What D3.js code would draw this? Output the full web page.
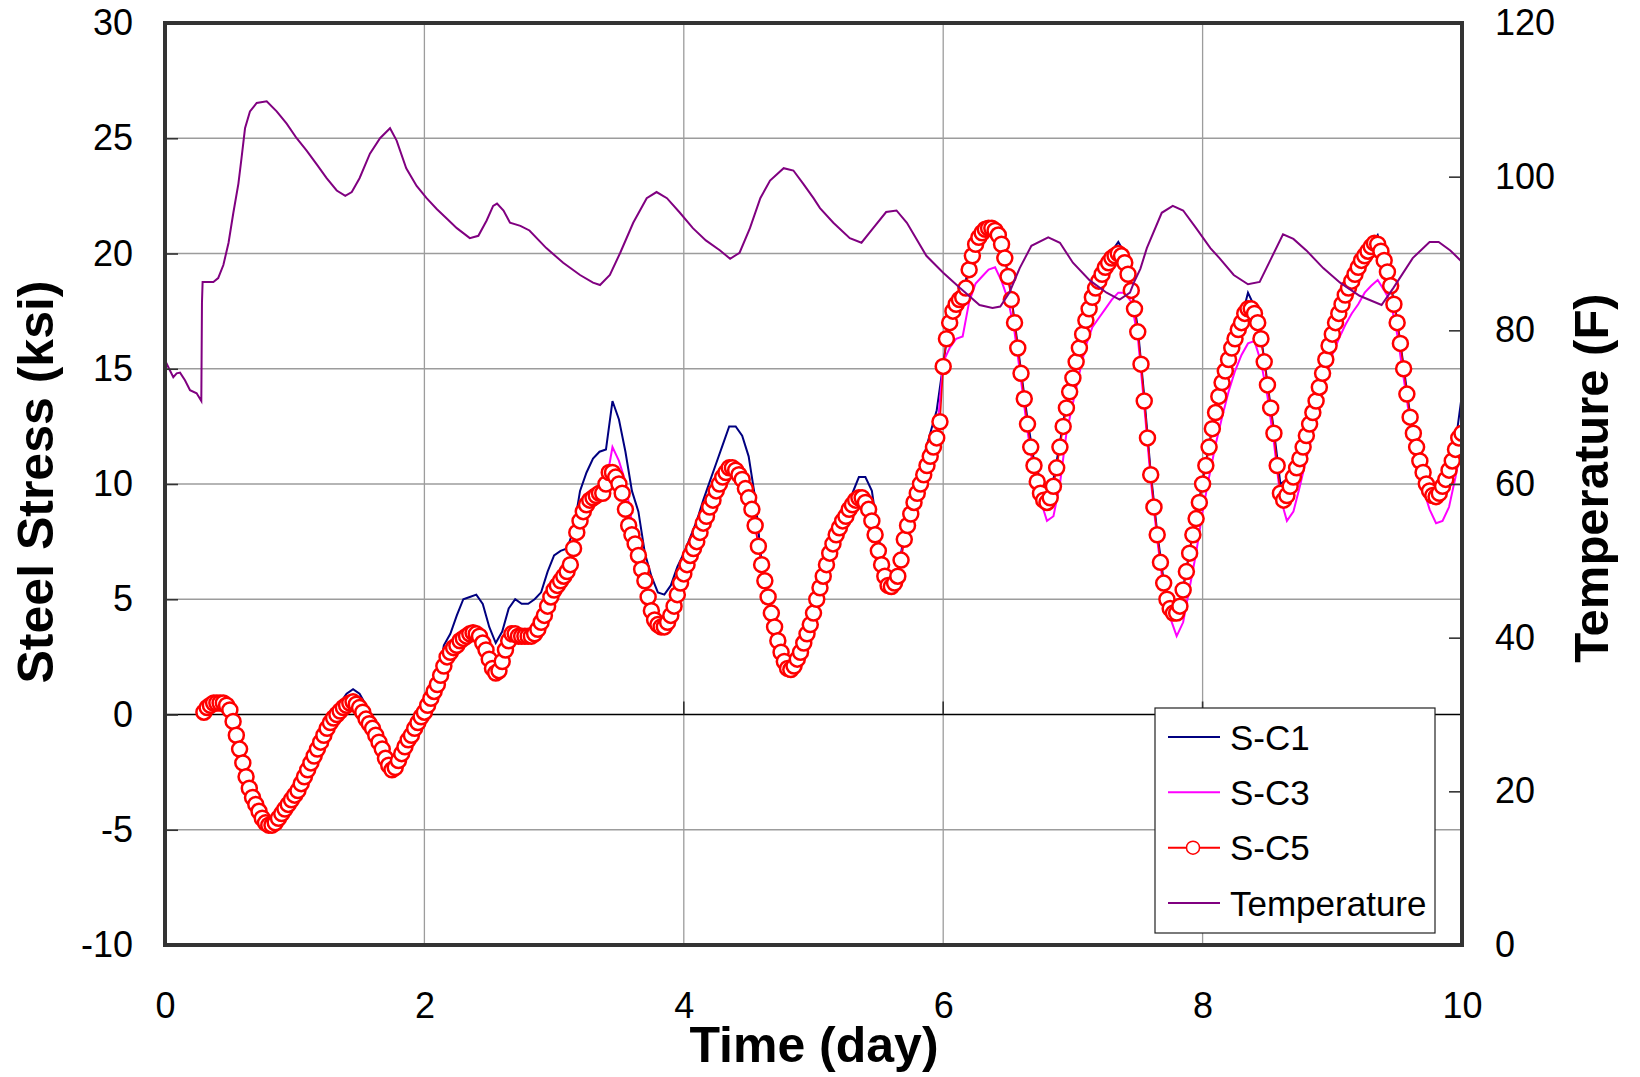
<!DOCTYPE html>
<html><head><meta charset="utf-8">
<script src="https://cdn.jsdelivr.net/npm/d3@7"></script>
<style>
body{margin:0;background:#fff}
svg{display:block}
text{font-family:"Liberation Sans",Arial,sans-serif;fill:#000}
</style>
</head><body>
<svg id="chart" width="1640" height="1077"></svg>
<script>
// ---------------- DATA ----------------
const seriesNames = ["S-C1", "S-C3", "S-C5", "Temperature"];
const xTickValues = [0, 2, 4, 6, 8, 10];
const yTickValues = [-10, -5, 0, 5, 10, 15, 20, 25, 30];
const y2TickValues = [0, 20, 40, 60, 80, 100, 120];

// S-C5 sampled every 0.025 day starting at day 0.30 (ksi)
const sc5Start = 0.30, sc5Step = 0.025;
const sc5 = [
 0.1,0.3,0.4,0.5,0.5,0.5,0.5,0.4,0.2,-0.3,-0.9,-1.5,-2.1,-2.7,-3.2,-3.6,-3.9,-4.2,-4.5,-4.7,
 -4.8,-4.8,-4.7,-4.5,-4.3,-4.1,-3.9,-3.7,-3.5,-3.3,-3.0,-2.7,-2.4,-2.1,-1.8,-1.5,-1.2,-0.9,-0.6,-0.35,
 -0.15,0.0,0.15,0.3,0.4,0.5,0.55,0.45,0.3,0.1,-0.2,-0.4,-0.6,-0.9,-1.2,-1.5,-1.9,-2.2,-2.4,-2.3,
 -2.0,-1.7,-1.4,-1.1,-0.9,-0.6,-0.35,-0.1,0.1,0.4,0.7,1.0,1.3,1.7,2.1,2.5,2.7,2.9,3.0,3.2,
 3.3,3.4,3.5,3.55,3.5,3.4,3.1,2.8,2.4,2.0,1.8,1.9,2.3,2.8,3.2,3.5,3.5,3.4,3.4,3.4,
 3.4,3.4,3.5,3.7,4.0,4.3,4.7,5.1,5.4,5.6,5.8,6.0,6.2,6.5,7.2,7.9,8.4,8.8,9.1,9.3,
 9.4,9.5,9.6,9.6,10.0,10.5,10.5,10.3,10.0,9.6,8.9,8.2,7.8,7.4,6.9,6.3,5.8,5.1,4.5,4.1,
 3.9,3.8,3.8,4.0,4.3,4.7,5.2,5.7,6.1,6.5,6.9,7.2,7.5,7.9,8.3,8.6,9.0,9.3,9.7,10.0,
 10.3,10.5,10.7,10.7,10.6,10.4,10.2,9.8,9.4,8.9,8.2,7.3,6.5,5.8,5.1,4.4,3.8,3.2,2.7,2.3,
 2.0,1.95,2.1,2.4,2.7,3.1,3.5,3.9,4.4,5.0,5.5,6.0,6.5,7.0,7.4,7.8,8.1,8.4,8.6,8.9,
 9.1,9.3,9.4,9.4,9.2,8.9,8.4,7.8,7.1,6.5,6.0,5.6,5.55,5.7,6.0,6.7,7.6,8.2,8.7,9.2,
 9.6,10.0,10.4,10.8,11.2,11.6,12.0,12.7,15.1,16.3,17.0,17.5,17.8,18.0,18.1,18.5,19.3,19.9,20.4,20.7,
 20.9,21.05,21.1,21.1,21.0,20.8,20.4,19.8,19.0,18.0,17.0,15.9,14.8,13.7,12.6,11.6,10.8,10.1,9.6,9.3,
 9.2,9.4,9.9,10.7,11.6,12.5,13.3,14.0,14.6,15.3,15.9,16.5,17.1,17.6,18.1,18.5,18.8,19.1,19.4,19.6,
 19.8,19.9,20.0,19.9,19.6,19.1,18.4,17.6,16.6,15.2,13.6,12.0,10.4,9.0,7.8,6.6,5.7,5.0,4.6,4.4,
 4.4,4.7,5.4,6.2,7.0,7.8,8.5,9.2,10.0,10.8,11.6,12.4,13.1,13.8,14.4,14.9,15.4,15.9,16.3,16.7,
 17.0,17.4,17.6,17.6,17.4,17.0,16.3,15.3,14.3,13.3,12.2,10.8,9.6,9.3,9.5,9.9,10.3,10.7,11.1,11.6,
 12.1,12.6,13.1,13.6,14.2,14.8,15.4,16.0,16.5,17.0,17.4,17.8,18.2,18.5,18.8,19.1,19.4,19.7,19.9,20.1,
 20.3,20.45,20.4,20.1,19.7,19.2,18.6,17.8,17.0,16.1,15.0,13.9,12.9,12.2,11.6,11.0,10.5,10.0,9.7,9.5,
 9.45,9.6,9.9,10.2,10.6,11.0,11.5,12.0,12.2
];

// S-C1 and S-C3 sampled every 0.05 day starting at day 0.30 (ksi)
const lineStart = 0.30, lineStep = 0.05;
const sc1 = [
 0.1,0.4,0.5,0.5,0.2,-0.9,-2.1,-3.2,-3.9,-4.5,
 -4.8,-4.7,-4.3,-3.9,-3.5,-3.0,-2.4,-1.8,-1.2,-0.5,
 0.1,0.5,0.9,1.1,0.9,0.4,-0.4,-1.1,-1.8,-2.3,
 -1.9,-1.3,-0.7,-0.2,0.4,1.0,1.4,3.0,3.5,4.3,
 5.0,5.1,5.2,4.8,3.8,3.1,3.6,4.6,5.0,4.8,
 4.8,5.0,5.3,6.2,6.9,7.1,7.2,8.0,9.7,10.5,
 11.1,11.4,11.5,13.6,12.8,11.4,9.7,8.8,7.0,6.0,
 5.3,5.2,5.6,6.4,7.0,7.7,8.4,9.3,10.1,10.9,
 11.7,12.5,12.5,12.1,11.2,9.4,6.6,5.1,3.8,2.7,
 2.0,2.1,2.8,3.7,4.6,5.7,6.8,7.6,8.4,9.1,
 9.6,10.3,10.3,9.7,7.8,6.1,5.6,6.2,7.8,9.0,
 10.0,11.2,12.2,13.2,15.2,17.1,17.9,18.2,19.5,20.6,
 21.2,21.3,21.2,20.5,19.1,17.1,14.9,12.8,11.0,10.2,
 9.9,10.2,11.8,13.5,14.8,16.1,17.3,18.3,19.0,19.6,
 20.1,20.5,20.0,18.6,16.8,13.8,10.5,7.9,5.8,4.7,
 4.5,5.5,7.1,8.6,10.1,11.7,13.2,14.5,15.5,16.4,
 17.2,18.3,17.7,16.4,14.4,12.3,10.0,10.2,10.5,11.3,
 12.2,13.2,14.3,15.5,16.6,17.5,18.3,18.9,19.5,20.0,
 20.4,20.8,19.9,18.7,17.1,15.1,13.0,11.7,10.6,10.0,
 9.8,10.2,10.9,11.8,13.9
];
const sc3 = [
 0.1,0.4,0.5,0.5,0.2,-0.9,-2.1,-3.2,-3.9,-4.6,
 -5.0,-4.9,-4.4,-3.9,-3.5,-3.0,-2.4,-1.8,-1.2,-0.6,
 -0.15,0.15,0.4,0.55,0.3,-0.2,-0.6,-1.2,-1.9,-2.4,
 -2.0,-1.4,-0.9,-0.35,0.1,0.7,1.3,2.1,2.7,3.0,
 3.3,3.5,3.5,3.1,2.4,1.8,2.3,3.2,3.5,3.4,
 3.4,3.5,4.0,4.7,5.4,5.8,6.2,7.2,8.4,9.1,
 9.4,9.6,10.0,11.6,11.0,10.1,8.3,6.9,5.8,4.5,
 3.9,3.8,4.3,5.2,6.1,6.9,7.5,8.3,9.0,9.7,
 10.3,10.7,10.6,10.2,9.4,8.2,6.5,5.1,3.8,2.7,
 2.0,2.1,2.7,3.5,4.4,5.5,6.5,7.4,8.1,8.6,
 9.1,9.4,9.2,8.4,7.1,6.0,5.55,6.0,7.6,8.7,
 9.6,10.4,11.2,12.0,15.3,15.9,16.3,16.4,17.9,18.7,
 19.0,19.3,19.4,18.8,18.0,16.6,14.5,12.3,10.5,9.3,
 8.4,8.6,10.0,12.2,13.5,14.8,16.0,16.8,17.2,17.6,
 18.0,18.3,18.3,17.9,16.4,13.4,10.2,7.6,5.4,4.2,
 3.4,4.0,5.5,7.0,8.8,10.3,11.7,12.9,14.0,14.9,
 15.6,16.1,16.2,15.3,13.8,11.8,9.4,8.4,8.8,9.9,
 11.1,12.2,13.4,14.6,15.6,16.3,16.9,17.4,17.8,18.3,
 18.6,18.85,18.4,17.9,16.5,14.6,12.7,11.0,9.8,8.9,
 8.3,8.4,9.0,10.3,11.8
];

// Temperature (F), read at irregular times (day)
const tempDays = [0,0.026,0.064,0.09,0.116,0.154,0.193,0.244,0.28,0.285,0.29,0.373,0.41,0.45,0.49,0.527,0.566,0.59,0.617,0.655,0.707,0.784,0.861,0.938,1.015,1.092,1.17,1.246,1.324,1.39,1.44,1.5,1.58,1.658,1.735,1.786,1.86,1.94,2.017,2.095,2.17,2.25,2.35,2.416,2.48,2.53,2.56,2.61,2.66,2.74,2.81,2.94,3.07,3.2,3.3,3.354,3.43,3.51,3.61,3.714,3.79,3.87,3.97,4.07,4.17,4.28,4.357,4.43,4.51,4.59,4.665,4.77,4.845,4.92,5.0,5.05,5.153,5.28,5.37,5.46,5.56,5.64,5.72,5.87,6.0,6.13,6.28,6.38,6.44,6.51,6.59,6.68,6.81,6.9,7.0,7.13,7.26,7.36,7.44,7.47,7.52,7.57,7.685,7.77,7.85,7.95,8.06,8.13,8.24,8.35,8.44,8.53,8.62,8.7,8.8,8.93,9.06,9.21,9.38,9.47,9.62,9.75,9.82,9.91,10.0];
const tempF = [76.1,75.2,73.9,74.4,74.5,73.5,72.2,71.8,70.8,83.6,86.3,86.3,86.8,88.5,91.4,95.3,99.1,102.4,106.3,108.5,109.6,109.8,108.5,106.9,105.0,103.4,101.6,99.8,98.2,97.5,98.0,99.8,103.0,105.0,106.3,104.7,101.1,98.8,97.2,95.8,94.6,93.3,92.0,92.3,94.3,96.2,96.5,95.6,94.0,93.6,93.0,90.7,88.8,87.2,86.2,85.9,87.2,90.1,94.0,97.2,98.0,97.2,95.3,93.3,91.7,90.4,89.3,90.1,93.3,97.2,99.5,101.1,100.8,99.1,97.2,95.9,94.0,92.0,91.4,93.3,95.4,95.6,94.0,89.7,87.5,85.5,83.3,82.9,83.1,84.9,88.1,91.0,92.1,91.4,88.8,86.5,84.9,84.0,84.9,86.2,88.0,90.7,95.3,96.2,95.6,93.3,90.7,89.4,87.2,86.0,86.3,89.4,92.5,91.9,90.4,88.1,86.2,84.5,83.3,85.5,89.4,91.5,91.5,90.4,88.9];

const seriesColors = {"S-C1":"#000080","S-C3":"#ff00ff","S-C5":"#ff0000","Temperature":"#800080"};

// ---------------- CHART ----------------
const svg = d3.select("#chart");
const L = 165, R = 1462, T = 23, B = 945;
const x = d3.scaleLinear().domain([0, 10]).range([L, R]);
const y = d3.scaleLinear().domain([-10, 30]).range([B, T]);
const y2 = d3.scaleLinear().domain([0, 120]).range([B, T]);
const plain = d => String(d);

svg.append("rect").attr("width",1640).attr("height",1077).attr("fill","#fff");

svg.append("defs").append("clipPath").attr("id","plotclip")
  .append("rect").attr("x",L).attr("y",T).attr("width",R-L).attr("height",B-T);

// gridlines
const grid = svg.append("g");
grid.selectAll("line.h").data(yTickValues.filter(v => v > -10 && v < 30 && v !== 0)).join("line")
  .attr("x1",L).attr("x2",R).attr("y1",d=>y(d)).attr("y2",d=>y(d))
  .attr("stroke","#9c9c9c").attr("stroke-width",1.3);
grid.selectAll("line.v").data(xTickValues.filter(v => v > 0 && v < 10)).join("line")
  .attr("y1",T).attr("y2",B).attr("x1",d=>x(d)).attr("x2",d=>x(d))
  .attr("stroke","#9c9c9c").attr("stroke-width",1.3);
// zero line (category axis)
svg.append("line").attr("x1",L).attr("x2",R).attr("y1",y(0)).attr("y2",y(0))
  .attr("stroke","#000").attr("stroke-width",1.3);
svg.append("g").selectAll("line").data(xTickValues.filter(v => v > 0 && v < 10)).join("line")
  .attr("x1",d=>x(d)).attr("x2",d=>x(d)).attr("y1",y(0)).attr("y2",y(0)-13)
  .attr("stroke","#333").attr("stroke-width",1.6);

// data
const plot = svg.append("g").attr("clip-path","url(#plotclip)");
const lineGen = d3.line().x(d => x(d[0])).y(d => y(d[1]));
const c1Pts = sc1.map((v,i) => [lineStart + i*lineStep, v]);
const c3Pts = sc3.map((v,i) => [lineStart + i*lineStep, v]);
const c5Pts = sc5.map((v,i) => [sc5Start + i*sc5Step, v]);
const tPts = tempF.map((v,i) => [tempDays[i], v]);

plot.append("path").attr("d", lineGen(c1Pts)).attr("fill","none")
  .attr("stroke",seriesColors["S-C1"]).attr("stroke-width",2);
plot.append("path").attr("d", lineGen(c3Pts)).attr("fill","none")
  .attr("stroke",seriesColors["S-C3"]).attr("stroke-width",2);
plot.append("path").attr("d", lineGen(c5Pts)).attr("fill","none")
  .attr("stroke",seriesColors["S-C5"]).attr("stroke-width",1.6);
plot.append("g").selectAll("circle").data(c5Pts).join("circle")
  .attr("cx",d=>x(d[0])).attr("cy",d=>y(d[1])).attr("r",7.5)
  .attr("fill","#fff").attr("stroke",seriesColors["S-C5"]).attr("stroke-width",2.5);
plot.append("path").attr("d", d3.line().x(d=>x(d[0])).y(d=>y2(d[1]))(tPts)).attr("fill","none")
  .attr("stroke",seriesColors["Temperature"]).attr("stroke-width",2);

// frame
svg.append("rect").attr("x",L).attr("y",T).attr("width",R-L).attr("height",B-T)
  .attr("fill","none").attr("stroke","#333").attr("stroke-width",4);

// axes
const fs = 36;
const yAxis = svg.append("g").attr("transform",`translate(${L},0)`)
  .call(d3.axisLeft(y).tickValues(yTickValues).tickSize(-13).tickPadding(32).tickFormat(plain));
const y2Axis = svg.append("g").attr("transform",`translate(${R},0)`)
  .call(d3.axisRight(y2).tickValues(y2TickValues).tickSize(-13).tickPadding(33).tickFormat(plain));
const xAxis = svg.append("g").attr("transform",`translate(0,${B})`)
  .call(d3.axisBottom(x).tickValues(xTickValues).tickSize(0).tickPadding(47).tickFormat(plain));
[yAxis, y2Axis, xAxis].forEach(a => {
  a.select(".domain").remove();
  a.selectAll("line").attr("stroke","#333").attr("stroke-width",1.6);
  a.selectAll("text").attr("font-size",fs).attr("font-family","'Liberation Sans', Arial, sans-serif").attr("fill","#000");
});

// axis titles
svg.append("text").attr("transform","translate(53,482) rotate(-90)")
  .attr("text-anchor","middle").attr("font-size",50).attr("font-weight","bold").text("Steel Stress (ksi)");
svg.append("text").attr("transform","translate(1608,478) rotate(-90)")
  .attr("text-anchor","middle").attr("font-size",49).attr("font-weight","bold").text("Temperature (F)");
svg.append("text").attr("x",814).attr("y",1062)
  .attr("text-anchor","middle").attr("font-size",50).attr("font-weight","bold").text("Time (day)");

// legend
const lg = svg.append("g");
lg.append("rect").attr("x",1155).attr("y",708).attr("width",280).attr("height",225)
  .attr("fill","#fff").attr("stroke","#222").attr("stroke-width",1.2);
const rowY = d3.scalePoint().domain(seriesNames).range([737, 903]);
seriesNames.forEach(name => {
  const yy = rowY(name);
  lg.append("line").attr("x1",1168).attr("x2",1220).attr("y1",yy).attr("y2",yy)
    .attr("stroke",seriesColors[name]).attr("stroke-width",2);
  if (name === "S-C5") {
    lg.append("circle").attr("cx",1193).attr("cy",yy).attr("r",6.5)
      .attr("fill","#fff").attr("stroke",seriesColors[name]).attr("stroke-width",1.5);
  }
  lg.append("text").attr("x",1230).attr("y",yy).attr("dy","0.36em")
    .attr("font-size",35).text(name);
});
</script>
</body></html>
